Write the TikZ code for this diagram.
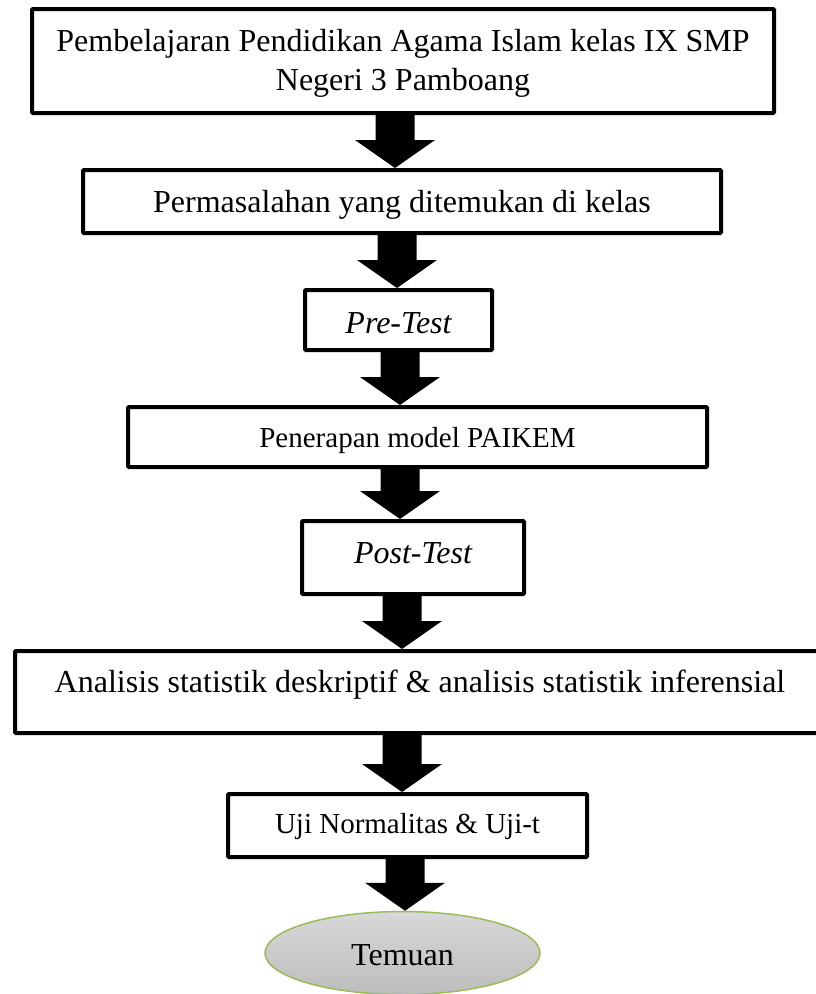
\documentclass[tikz,border=0pt]{standalone}
\usepackage{fontspec}
\setmainfont{Liberation Serif}
\usetikzlibrary{calc,shapes.geometric}
\definecolor{ovalgreen}{HTML}{9BBB59}
\definecolor{ovaltop}{HTML}{D8D8D8}
\definecolor{ovalbot}{HTML}{BDBDBD}
\newcommand\blkarrow[3]{%
  \fill let \p1=(#1.south), \p2=(#2.north) in
    (#3pt-19.5pt,\y1) -- (#3pt+19.5pt,\y1) -- (#3pt+19.5pt,\y2+28pt) --
    (#3pt+40pt,\y2+28pt) -- (#3pt,\y2) -- (#3pt-40pt,\y2+28pt) --
    (#3pt-19.5pt,\y2+28pt) -- cycle;}
\begin{document}
\begin{tikzpicture}[x=1pt,y=-1pt,
  box/.style={draw, line width=4pt, fill=white, inner sep=0pt, rounded corners=1pt,
    font=\fontsize{32}{39}\selectfont},
  smallfont/.style={font=\fontsize{29}{35}\selectfont},
  italfont/.style={font=\fontsize{32}{39}\selectfont\itshape}]
\useasboundingbox (0,0) rectangle (816,994);
\clip (0,0) rectangle (816,994);
\node[box, minimum width=742pt, minimum height=104pt, align=center, text height=58pt, text depth=0pt] (n1) at (403,61)
  {Pembelajaran Pendidikan Agama Islam kelas IX SMP\\Negeri 3 Pamboang};
\node[box, minimum width=638pt, minimum height=63pt, text height=21pt, text depth=0pt] (n2) at (402,201.5)
  {Permasalahan yang ditemukan di kelas};
\node[box, italfont, minimum width=187pt, minimum height=60pt, text height=26pt, text depth=0pt] (n3) at (398.5,320)
  {Pre-Test};
\node[box, smallfont, minimum width=579pt, minimum height=60pt, text height=20pt, text depth=0pt] (n4) at (417.5,437)
  {Penerapan model PAIKEM};
\node[box, italfont, minimum width=222pt, minimum height=73pt, text height=11pt, text depth=0pt] (n5) at (413,557.5)
  {Post-Test};
\node[box, minimum width=810pt, minimum height=82pt, text height=0pt, text depth=0pt] (n6) at (420,692)
  {Analisis statistik deskriptif \& analisis statistik inferensial};
\node[box, smallfont, minimum width=359pt, minimum height=63pt, text height=15pt, text depth=0pt] (n7) at (407.5,825.5)
  {Uji Normalitas \& Uji-t};
\node[ellipse, draw=ovalgreen, line width=1.5pt, top color=ovaltop, bottom color=ovalbot,
  inner sep=0pt, minimum width=275pt, minimum height=83pt, text height=24pt, text depth=0pt,
  font=\fontsize{32}{39}\selectfont] (n8) at (402.5,953) {Temuan};
\blkarrow{n1}{n2}{395}
\blkarrow{n2}{n3}{397}
\blkarrow{n3}{n4}{400}
\blkarrow{n4}{n5}{400}
\blkarrow{n5}{n6}{402}
\blkarrow{n6}{n7}{402}
\blkarrow{n7}{n8}{405}
\end{tikzpicture}
\end{document}
